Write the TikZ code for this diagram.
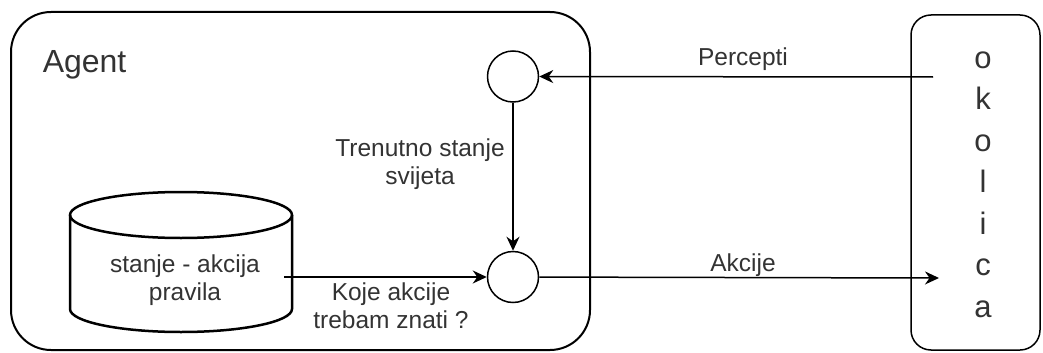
\documentclass[tikz,border=0pt]{standalone}
\usepackage{fontspec}
\setmainfont{Liberation Sans}
\usetikzlibrary{arrows.meta}
\begin{document}
\begin{tikzpicture}[x=1pt,y=-1pt,line width=1.5pt,>={Stealth[length=14pt,width=13pt]},
	state/.style={circle, draw, inner sep=0pt, minimum size=51pt},
	box/.style={draw, inner sep=0pt},
	lbl/.style={text=black!80, font=\fontsize{24.5}{28}\selectfont, align=center, anchor=base}]
	\useasboundingbox (0,0) rectangle (1043,353);
	% frames
	\node (agent) at (300.5,181)	[box, line width=2pt, rounded corners=40pt, minimum width=579pt, minimum height=338pt]	{};
	\node (env)   at (975.5,182.5)	[box, rounded corners=20pt, minimum width=129pt, minimum height=335pt]	{};
	\node (agentname) at (42,72)	[anchor=base west, inner sep=0pt, text=black!80, font=\fontsize{32}{38}\selectfont]	{Agent};
	\node (envname) at (983,317)	[anchor=base, inner sep=0pt, text=black!80, align=center, font=\fontsize{31}{41.5}\selectfont]	{o\\k\\o\\l\\i\\c\\a};
	% rule base
	\draw[line width=2.5pt] (181,215) ellipse [x radius=111, y radius=23];
	\draw[line width=2.5pt] (70,215) -- (70,309) arc [start angle=180, end angle=0, x radius=111, y radius=23] -- (292,215);
	\node (rules) at (185,300)	[lbl]	{stanje - akcija\\pravila};
	% states
	\node (perc) at (513,76.5)	[state]	{};
	\node (act)  at (513,277)	[state]	{};
	\coordinate (envout) at (933,77);
	\coordinate (envin)  at (939,278);
	\coordinate (ruleout) at (284,277);
	\draw[->] (envout) -- (perc);
	\draw[->] (perc) -- (act);
	\draw[->] (ruleout) -- (act);
	\draw[->] (act) -- (envin);
	% labels
	\node (lperc) at (743,66)	[lbl]	{Percepti};
	\node (lact)  at (743,271)	[lbl]	{Akcije};
	\node (lstate) at (420,184)	[lbl]	{Trenutno stanje\\svijeta};
	\node (lquery) at (391,328)	[lbl]	{Koje akcije\\trebam znati ?};
\end{tikzpicture}
\end{document}
